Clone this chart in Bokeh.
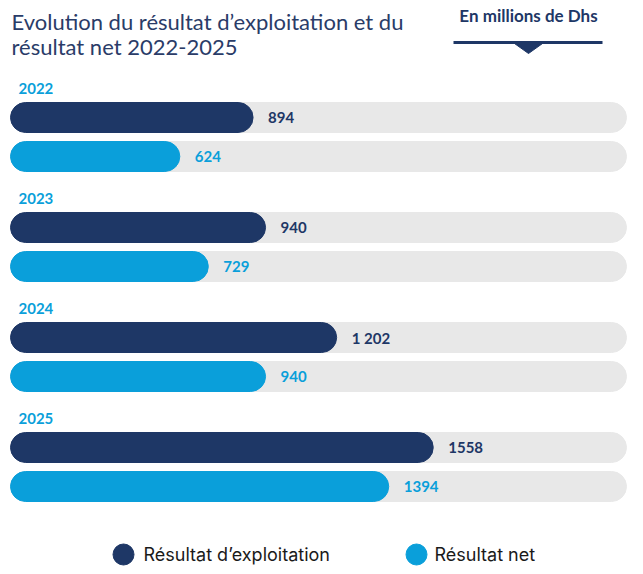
from bokeh.plotting import figure
from bokeh.models import Range1d, ColumnDataSource
from bokeh.core.properties import value
from bokeh.embed import file_html
from bokeh.resources import INLINE

years = ["2022", "2023", "2024", "2025"]
exploitation = [894, 940, 1202, 1558]
net = [624, 729, 940, 1394]
exploitation_labels = ["894", "940", "1 202", "1558"]
net_labels = ["624", "729", "940", "1394"]
series_names = ["Résultat d’exploitation", "Résultat net"]

NAVY = "#1e3766"
BLUE = "#0a9fda"
TRACK = "#e8e8e8"
TITLE_C = "#2a3c68"

W, H = 627, 566
p = figure(width=W, height=H, output_backend="svg", toolbar_location=None,
           x_range=Range1d(0, W), y_range=Range1d(H, 0), min_border=0,
           background_fill_color="white", border_fill_color="white")
p.axis.visible = False
p.grid.visible = False
p.outline_line_color = None
p.extra_x_ranges = {"val": Range1d(-36.9, 2274)}

# layout (pixels from top)
first_dark = 117
step = 110
gap = 39
dark_y = [first_dark + i * step for i in range(len(years))]
light_y = [y + gap for y in dark_y]
year_y = [y - 29 for y in dark_y]

# tracks
p.hbar(y=dark_y + light_y, left=10, right=626, height=30, color=TRACK,
       border_radius=15)

src_d = ColumnDataSource(dict(y=dark_y, v=exploitation, lab=exploitation_labels))
src_l = ColumnDataSource(dict(y=light_y, v=net, lab=net_labels))
p.hbar(y="y", left=0, right="v", height=30, color=NAVY, border_radius=15,
       source=src_d, x_range_name="val")
p.hbar(y="y", left=0, right="v", height=30, color=BLUE, border_radius=15,
       source=src_l, x_range_name="val")

p.text(x="v", y="y", text="lab", source=src_d, x_range_name="val",
       x_offset=15, text_baseline="middle", text_font=value("Lato"),
       text_font_style="bold", text_font_size="15px", text_color=NAVY)
p.text(x="v", y="y", text="lab", source=src_l, x_range_name="val",
       x_offset=15, text_baseline="middle", text_font=value("Lato"),
       text_font_style="bold", text_font_size="15px", text_color=BLUE)

# year labels
p.text(x=[18] * len(years), y=year_y, text=years, text_baseline="middle",
       text_font=value("Lato"), text_font_style="bold", text_font_size="15px",
       text_color=BLUE)

# title
p.text(x=[11, 11], y=[21, 46],
       text=["Evolution du résultat d’exploitation et du", "résultat net 2022-2025"],
       text_baseline="middle", text_font=value("Lato"), text_font_size="22px",
       text_color=TITLE_C)

# unit badge
p.text(x=[528], y=[15], text=["En millions de Dhs"], text_align="center",
       text_baseline="middle", text_font=value("Lato"), text_font_style="bold",
       text_font_size="17px", text_color=NAVY)
p.segment(x0=[453], y0=[42], x1=[602], y1=[42], line_color=NAVY, line_width=3)
p.patch(x=[514, 542, 528], y=[43, 43, 53], color=NAVY)

# legend
p.scatter(x=[123, 416], y=[554, 554], size=21, color=[NAVY, BLUE])
p.text(x=[143, 434], y=[554, 554], text=series_names, text_baseline="middle",
       text_font=value("Inter"), text_font_size="18px", text_color="#1a1a1a")

open("out.html", "w").write(file_html(p, INLINE))
